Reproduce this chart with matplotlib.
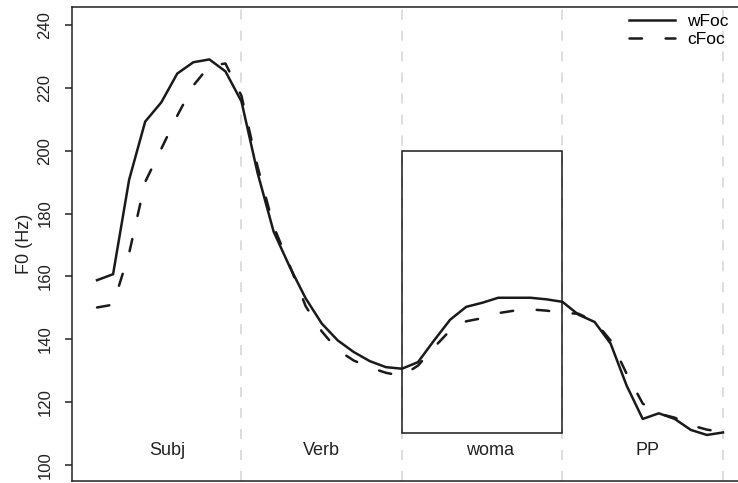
import matplotlib

matplotlib.use("Agg")

import matplotlib.pyplot as plt
import numpy as np
from matplotlib.patches import Rectangle

plt.rcParams["font.family"] = ["Liberation Sans", "DejaVu Sans"]
plt.rcParams["lines.scale_dashes"] = False

# mean F0 contours, 10 normalised samples per region
frames = np.arange(1, 41)
wfoc = [158.8, 160.7, 190.8, 209.3, 215.4, 224.6, 228.2, 229.1, 225.3, 215.7,
        193.0, 174.3, 163.1, 153.0, 145.0, 139.6, 135.9, 133.0, 131.1, 130.6,
        132.7, 139.6, 146.2, 150.3, 151.6, 153.2, 153.2, 153.2, 152.7, 151.9,
        147.8, 145.5, 138.6, 125.2, 114.6, 116.4, 114.6, 111.1, 109.5, 110.3]
cfoc = [150.1, 151.0, 167.4, 190.1, 200.6, 211.2, 220.8, 227.0, 227.8, 217.5,
        195.0, 176.0, 163.5, 150.5, 142.5, 136.5, 133.2, 131.0, 129.3, 128.3,
        131.6, 137.4, 142.8, 145.7, 146.7, 148.3, 149.1, 149.5, 149.1, 148.4,
        148.1, 145.7, 139.6, 129.0, 119.5, 116.3, 115.0, 112.6, 111.2, 110.4]

regions = ["Subj", "Verb", "woma", "PP"]
region_ends = [10, 20, 30, 40]
region_label_x = [5.4, 15.0, 25.5, 35.3]
focus_region = (20, 30, 110, 200)
y_ticks = [100, 120, 140, 160, 180, 200, 220, 240]

W, H = 738, 483
fig = plt.figure(figsize=(W / 100, H / 100), dpi=100)
ax = fig.add_axes([72 / W, (H - 480.5) / H, (748 - 72) / W, (480.5 - 7.3) / H])
ax.set_xlim(-0.56, 41.56)
ax.set_ylim(95.0, 245.7)

ink = "#1a1a1a"

for xb in region_ends:
    ax.axvline(xb, color="#d4d4d4", lw=1.1, linestyle=(0, (7.2, 7.9)), zorder=1)

x0, x1, y0, y1 = focus_region
ax.add_patch(Rectangle((x0, y0), x1 - x0, y1 - y0, fill=False, ec=ink, lw=1.1, zorder=2))

ax.plot(frames, wfoc, color=ink, lw=1.8, solid_joinstyle="round", label="wFoc", zorder=3)
ax.plot(frames, cfoc, color=ink, lw=1.8, linestyle=(0, (9, 17)),
        dash_capstyle="round", label="cFoc", zorder=3)

for name, xl in zip(regions, region_label_x):
    ax.text(xl, 103.1, name, ha="center", va="baseline", fontsize=13, color="#222222")

ax.set_xticks([])
ax.set_yticks(y_ticks)
ax.tick_params(axis="y", length=5, width=1.1, pad=9, labelsize=12, colors="#222222")
for lbl in ax.get_yticklabels():
    lbl.set_rotation(90)
    lbl.set_verticalalignment("center")
for spine in ax.spines.values():
    spine.set_linewidth(1.1)
    spine.set_color("#222222")
ax.set_ylabel("F0 (Hz)", fontsize=13, labelpad=3, color="#222222")

ax.legend(loc="upper right", bbox_to_anchor=(729 / W, 1 - 14 / H),
          bbox_transform=fig.transFigure, frameon=False, fontsize=12.5,
          handlelength=2.65, handletextpad=0.7, labelspacing=0.15,
          borderpad=0, borderaxespad=0)

fig.savefig("out.png", dpi=100, facecolor="white")
